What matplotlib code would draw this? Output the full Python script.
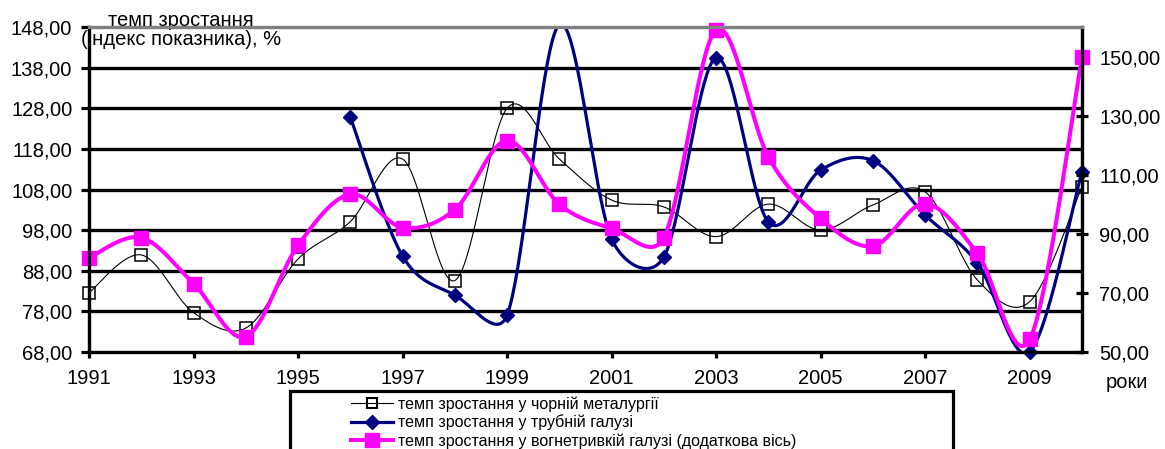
import numpy as np
import matplotlib
matplotlib.use("Agg")
import matplotlib.pyplot as plt
from matplotlib.lines import Line2D
from matplotlib.patches import Rectangle
from matplotlib.ticker import FuncFormatter

plt.rcParams['font.family'] = ['Liberation Sans', 'DejaVu Sans']

years = list(range(1991, 2011))
ferrous = [82.6, 91.9, 77.7, 73.9, 90.9, 100.1, 115.5, 85.6, 128.0, 115.5,
           105.4, 103.7, 96.4, 104.4, 98.0, 104.2, 107.4, 85.7, 80.4, 108.6]
pipe_years = list(range(1996, 2011))
pipe = [125.8, 91.6, 82.0, 77.1, 148.6, 95.8, 91.4, 140.4, 100.0, 112.8,
        115.1, 101.7, 89.9, 68.1, 112.4]
refractory = [82.0, 88.8, 73.2, 55.2, 86.2, 103.5, 92.2, 98.3, 121.7, 100.1,
              91.9, 88.8, 159.2, 116.1, 95.3, 85.9, 100.3, 83.4, 54.3, 149.9]

lab_ferrous = "темп зростання у чорній металургії"
lab_pipe = "темп зростання у трубній галузі"
lab_refr = "темп зростання у вогнетривкій галузі (додаткова вісь)"
ylabel = "темп зростання\n(індекс показника), %"
xlabel = "роки"


def smooth(ax, x, y, n=40):
    """Excel-like smoothed line: cubic Bezier with 1/6 tangents, clamped in pixel space."""
    P = ax.transData.transform(np.column_stack([np.asarray(x, float), np.asarray(y, float)]))
    Pe = np.vstack([P[0], P, P[-1]])
    out = []
    t = np.linspace(0, 1, n)[:, None]
    for i in range(len(P) - 1):
        p0, p1, p2, p3 = Pe[i], Pe[i + 1], Pe[i + 2], Pe[i + 3]
        d12 = np.linalg.norm(p2 - p1)
        v1 = (p2 - p0) / 6.0
        v2 = (p3 - p1) / 6.0
        n1 = np.linalg.norm(v1)
        n2 = np.linalg.norm(v2)
        if n1 > d12 / 2 and n1 > 0:
            v1 = v1 * (d12 / 2) / n1
        if n2 > d12 / 2 and n2 > 0:
            v2 = v2 * (d12 / 2) / n2
        c1 = p1 + v1
        c2 = p2 - v2
        seg = ((1 - t) ** 3) * p1 + 3 * ((1 - t) ** 2) * t * c1 + 3 * (1 - t) * t ** 2 * c2 + t ** 3 * p2
        out.append(seg if i == 0 else seg[1:])
    s = ax.transData.inverted().transform(np.vstack(out))
    return s[:, 0], s[:, 1]


W, H = 1165, 449
fig = plt.figure(figsize=(W / 100, H / 100), dpi=100)
L, R, T, B = 89, 1082, 27, 352
ax1 = fig.add_axes([L / W, 1 - B / H, (R - L) / W, (B - T) / H])
ax2 = ax1.twinx()
ax1.patch.set_visible(False)

ax1.set_xlim(1991, 2010)
ax1.set_ylim(68, 148)
ax2.set_ylim(50, 160.2)
ax2.set_xlim(1991, 2010)

ax1.set_yticks(np.arange(68, 149, 10))
ax2.set_yticks(np.arange(50, 151, 20))
ax1.set_xticks(np.arange(1991, 2010, 2))
fmt = FuncFormatter(lambda v, p: f"{v:.2f}".replace('.', ','))
ax1.yaxis.set_major_formatter(fmt)
ax2.yaxis.set_major_formatter(fmt)

lw_ax = 2.3
for g in np.arange(78, 148, 10):
    ax1.axhline(g, color='black', lw=2.4, zorder=0.5)

for ax in (ax1, ax2):
    for s in ax.spines.values():
        s.set_linewidth(lw_ax)
        s.set_color('black')
    ax.spines['top'].set_color('#808080')

ax1.tick_params(axis='y', direction='out', length=6, width=lw_ax, labelsize=14.5, pad=6)
ax1.tick_params(axis='x', direction='out', length=4.5, width=lw_ax, labelsize=14.5, pad=8)
ax2.tick_params(axis='y', direction='inout', length=9, width=lw_ax, labelsize=14.5, pad=8)

# ferrous (black, thin)
sx, sy = smooth(ax1, years, ferrous)
ax1.plot(sx, sy, color='black', lw=0.8, zorder=3)
ax1.plot(years, ferrous, ls='none', marker='s', ms=8.5, mfc='none', mec='black', mew=1.1,
         zorder=3.1, clip_on=False)

# pipe (navy)
sx, sy = smooth(ax1, pipe_years, pipe)
ax1.plot(sx, sy, color='#000080', lw=2.3, zorder=4)
py = np.array(pipe, float)
px = np.array(pipe_years, float)
vis = (py >= 68) & (py <= 148)
ax1.plot(px[vis], py[vis], ls='none', marker='D', ms=7.5, mfc='#000080', mec='#000080',
         zorder=4.1, clip_on=False)

# refractory (magenta, secondary axis)
sx, sy = smooth(ax2, years, refractory)
ax2.plot(sx, sy, color='#FF00FF', lw=2.9, zorder=2)
ax2.plot(years, refractory, ls='none', marker='s', ms=10, mfc='#FF00FF', mec='#FF00FF',
         zorder=2.1, clip_on=False)

ax2.text(181 / W, 1 - 30 / H, ylabel, transform=fig.transFigure, ha='center', va='center',
         fontsize=14.5, linespacing=1.0, zorder=1, clip_on=False)
fig.text(1127 / W, 1 - 383 / H, xlabel, ha='center', va='center', fontsize=14.5)

# legend
fig.patches.append(Rectangle((290 / W, -0.1), (953 - 290) / W, (1 - 391 / H) + 0.1,
                             transform=fig.transFigure, fill=False, ec='black', lw=2.3))
handles = [
    Line2D([], [], color='black', lw=0.8, marker='s', ms=6.5, mfc='none', mec='black', mew=1.5),
    Line2D([], [], color='#000080', lw=2.3, marker='D', ms=7),
    Line2D([], [], color='#FF00FF', lw=2.9, marker='s', ms=10),
]
fig.legend(handles, [lab_ferrous, lab_pipe, lab_refr], loc='upper left',
           bbox_to_anchor=(340 / W, 1 - 385 / H), frameon=False, fontsize=11.5,
           handlelength=2.6, handletextpad=0.3, labelspacing=0.18, borderpad=0.2)

fig.savefig('out.png', dpi=100)
